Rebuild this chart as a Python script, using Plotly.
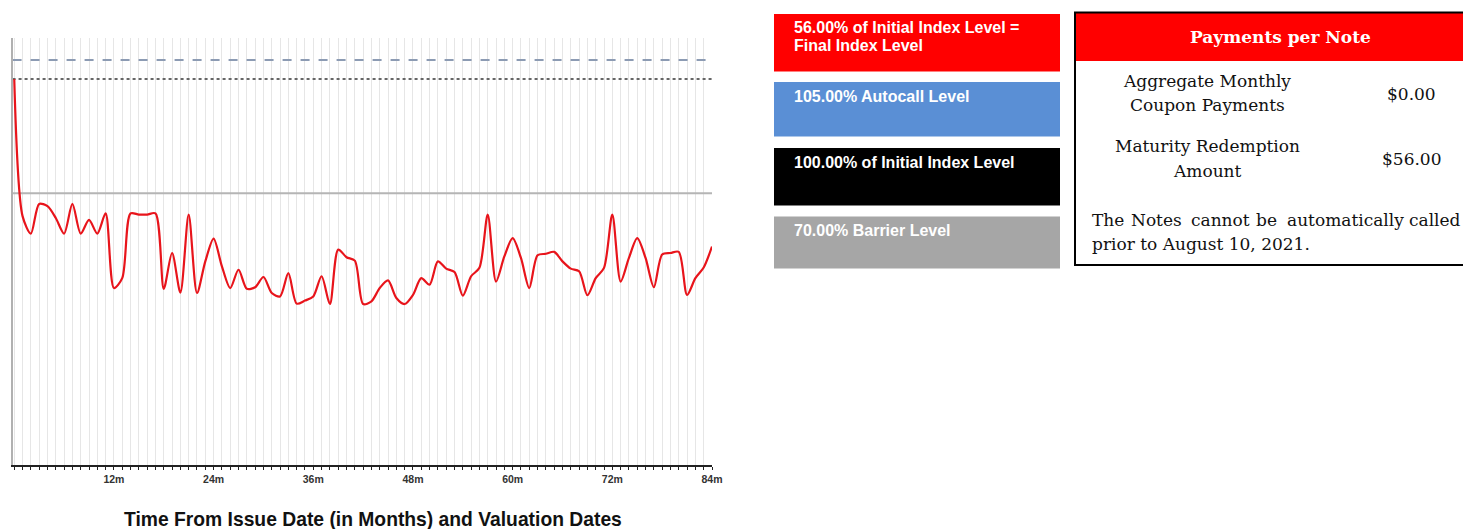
import plotly.graph_objects as go

# ---------------- data ----------------
months = list(range(0, 85))
index_level = [
    100, 64, 59.4, 67.2, 66.6, 63.5, 59.4, 67.2, 59.4, 63, 59.4, 64.7,
    45.1, 47.7, 64.7, 64.4, 64.4, 64.7, 44.9, 54.3, 43.9, 64.4, 43.8, 52.1,
    58.1, 50.8, 45.1, 49.9, 44.9, 45.3, 48, 43.8, 42.9, 49, 41, 41.8,
    42.9, 48.2, 40.9, 55.2, 53.2, 52.3, 40.9, 41.6, 45.1, 47.1, 42.5, 40.9,
    43.3, 47.7, 46, 52.1, 50.2, 49.3, 43.1, 48.2, 50.4, 64.4, 46.8, 53.4,
    58.2, 53, 45.1, 53.7, 54.1, 54.6, 52.1, 50.2, 49.5, 43.2, 47.7, 50.4,
    64.4, 46.8, 53, 58.2, 53, 45.3, 53.9, 54.3, 54.6, 43.3, 47.7, 50.5, 56,
]
level_names = ["Autocall", "Initial", "Barrier"]
level_values = [105, 100, 70]
tick_months = [12, 24, 36, 48, 60, 72, 84]
tick_labels = ["12m", "24m", "36m", "48m", "60m", "72m", "84m"]

legend_lines = [
    ["56.00% of Initial Index Level =", "Final Index Level"],
    ["105.00% Autocall Level"],
    ["100.00% of Initial Index Level"],
    ["70.00% Barrier Level"],
]
legend_colors = ["#ff0000", "#5a8fd5", "#000000", "#a6a6a6"]

table_title = "Payments per Note"
table_labels = [["Aggregate Monthly", "Coupon Payments"], ["Maturity Redemption", "Amount"]]
table_values = ["$0.00", "$56.00"]
note_line1_words = ["The", "Notes", "cannot", "be", "automatically", "called"]
note_line2 = "prior to August 10, 2021."

# ---------------- layout geometry ----------------
# the page puts the figure 8px in from the top-left corner; positions below
# are screen pixels, converted to paper coordinates.
OFF = 8
W, H = 1471 - OFF, 529 - OFF
L, R, T, B = 13, 712, 38, 465


def px(x):
    return (x - L) / (R - L)


def py(y):
    return (B - y) / (B - T)


fig = go.Figure()

level_styles = {
    "Autocall": dict(color="#8c9bb3", width=2, dash="dash"),
    "Initial": dict(color="#666666", width=2, dash="dot"),
    "Barrier": dict(color="#b5b5b5", width=2, dash="solid"),
}
for name, val in zip(level_names, level_values):
    fig.add_trace(go.Scatter(
        x=[months[0] - 0.2, months[-1]], y=[val, val], mode="lines",
        line=level_styles[name], hoverinfo="skip", showlegend=False,
    ))

fig.add_trace(go.Scatter(
    x=months, y=index_level, mode="lines",
    line=dict(color="#e8141b", width=2.2, shape="spline", smoothing=0.8),
    showlegend=False,
))

fig.update_xaxes(
    range=[-0.15, 84], tickvals=tick_months,
    ticktext=["<b>" + t + "</b>" for t in tick_labels],
    ticks="outside", ticklen=3, tickwidth=1, tickcolor="#222",
    showgrid=True, gridcolor="#e6e6e6", gridwidth=1,
    minor=dict(dtick=1, tick0=0, ticks="outside", ticklen=3, tickcolor="#222",
               showgrid=True, gridcolor="#e6e6e6", gridwidth=1),
    showline=True, linecolor="#222222", linewidth=2,
    tickfont=dict(family="Liberation Sans, Arial", size=10.5, color="#333333"),
    zeroline=False, fixedrange=True,
)
fig.update_yaxes(
    range=[-1.4, 110.8], showticklabels=False, showgrid=False, ticks="",
    showline=True, linecolor="#b0b0b0", linewidth=2, zeroline=False,
)

shapes = []
annotations = []
sans = "Liberation Sans, Arial"
serif = "DejaVu Serif, serif"

# x axis title
annotations.append(dict(
    x=px(372.5), y=py(520), xref="paper", yref="paper", showarrow=False,
    text="<b>Time From Issue Date (in Months) and Valuation Dates</b>",
    font=dict(family=sans, size=19.3, color="#111111"),
    xanchor="center", yanchor="middle",
))

# legend boxes
box_y = [(14, 71.5), (82, 136.5), (148, 205.5), (216.5, 268.5)]
text_y = [[27.5, 45.5], [96], [162.5], [230]]
for lines, col, (y0, y1), tys in zip(legend_lines, legend_colors, box_y, text_y):
    shapes.append(dict(type="rect", xref="paper", yref="paper",
                       x0=px(774), x1=px(1060), y0=py(y1), y1=py(y0),
                       fillcolor=col, line=dict(width=0), layer="above"))
    for line, ty in zip(lines, tys):
        annotations.append(dict(
            x=px(792), y=py(ty), xref="paper", yref="paper", showarrow=False,
            text="<b>" + line + "</b>", align="left",
            font=dict(family=sans, size=16, color="white"),
            xanchor="left", yanchor="middle",
        ))

# table
shapes.append(dict(type="rect", xref="paper", yref="paper",
                   x0=px(1075), x1=px(1475), y0=py(61), y1=py(12.5),
                   fillcolor="#ff0000", line=dict(width=0), layer="above"))
shapes.append(dict(type="rect", xref="paper", yref="paper",
                   x0=px(1075), x1=px(1475), y0=py(265), y1=py(12.5),
                   fillcolor="rgba(0,0,0,0)", line=dict(width=2, color="#000"),
                   layer="above"))
annotations.append(dict(
    x=px(1280), y=py(37), xref="paper", yref="paper", showarrow=False,
    text="<b>" + table_title + "</b>",
    font=dict(family=serif, size=17, color="white"),
    xanchor="center", yanchor="middle",
))
row_line_y = [[81, 105.5], [146, 170.5]]
row_val_y = [94, 158.5]
for lines, val, lys, vy in zip(table_labels, table_values, row_line_y, row_val_y):
    for line, ly in zip(lines, lys):
        annotations.append(dict(
            x=px(1207), y=py(ly), xref="paper", yref="paper", showarrow=False,
            text=line, font=dict(family=serif, size=17, color="#111"),
            xanchor="center", yanchor="middle",
        ))
    annotations.append(dict(
        x=px(1411), y=py(vy), xref="paper", yref="paper", showarrow=False,
        text=val, font=dict(family=serif, size=17, color="#111"),
        xanchor="center", yanchor="middle",
    ))
# justified first line of the note: word positions
word_x = [1090, 1129, 1189, 1254, 1285, 1407]
for wd, wx in zip(note_line1_words, word_x):
    annotations.append(dict(
        x=px(wx), y=py(220), xref="paper", yref="paper", showarrow=False,
        text=wd, font=dict(family=serif, size=17, color="#111"),
        xanchor="left", yanchor="middle",
    ))
annotations.append(dict(
    x=px(1090), y=py(244), xref="paper", yref="paper", showarrow=False,
    text=note_line2, font=dict(family=serif, size=17, color="#111"),
    xanchor="left", yanchor="middle",
))

fig.update_layout(
    width=W, height=H,
    margin=dict(l=L - OFF, r=(W + OFF) - R, t=T - OFF, b=(H + OFF) - B),
    plot_bgcolor="white", paper_bgcolor="white",
    shapes=shapes, annotations=annotations, showlegend=False,
)

fig.write_html("out.html")
